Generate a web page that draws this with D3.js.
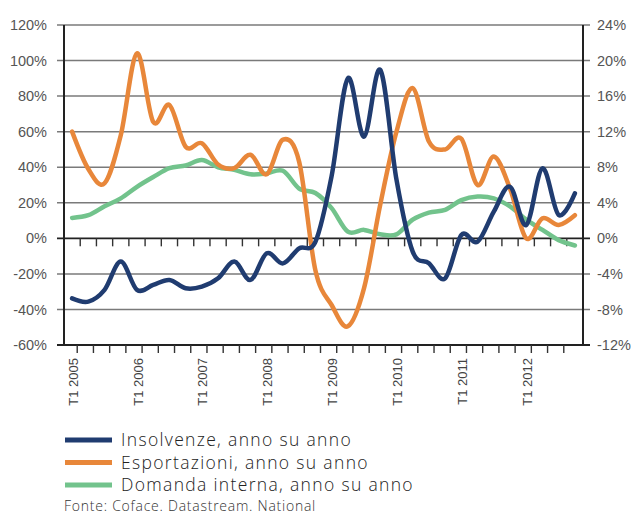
<!DOCTYPE html>
<html>
<head>
<meta charset="utf-8">
<script src="https://cdn.jsdelivr.net/npm/d3@7"></script>
<style>
  html, body { margin: 0; padding: 0; background: #ffffff; }
  svg { display: block; }
</style>
</head>
<body>
<svg id="chart" width="631" height="515"></svg>
<script>
// ---- Data ----
const categories = [
  "T1 2005","T2 2005","T3 2005","T4 2005",
  "T1 2006","T2 2006","T3 2006","T4 2006",
  "T1 2007","T2 2007","T3 2007","T4 2007",
  "T1 2008","T2 2008","T3 2008","T4 2008",
  "T1 2009","T2 2009","T3 2009","T4 2009",
  "T1 2010","T2 2010","T3 2010","T4 2010",
  "T1 2011","T2 2011","T3 2011","T4 2011",
  "T1 2012","T2 2012","T3 2012","T4 2012"
];
const labelledCategories = ["T1 2005","T1 2006","T1 2007","T1 2008","T1 2009","T1 2010","T1 2011","T1 2012"];

// left axis (%)
const insolvenze = [-33.8, -35.6, -29, -13.1, -29, -26.2, -23.4, -28.1,
                    -27.2, -22.5, -13.1, -23.4, -8.4, -14.1, -5.6, -2,
                    35, 90, 57.2, 94.7, 33, -7.5, -14, -22.5,
                    1.9, -1.9, 15, 29, 7.5, 39.4, 13.1, 25.3];
// right axis (%)
const esportazioni = [12.0, 7.8, 6.2, 11.6, 20.8, 13.1, 15.0, 10.3,
                      10.7, 8.3, 7.9, 9.4, 7.2, 11.1, 8.6, -3.6,
                      -7.5, -9.9, -5.6, 3.8, 12.0, 16.9, 10.9, 10.0,
                      11.2, 6.0, 9.2, 5.6, 0.0, 2.25, 1.5, 2.6];
const domanda = [2.3, 2.6, 3.6, 4.5, 5.8, 6.9, 7.9, 8.2,
                 8.8, 8.0, 7.7, 7.2, 7.3, 7.6, 5.6, 5.1,
                 3.4, 0.75, 0.95, 0.45, 0.45, 2.1, 2.9, 3.2,
                 4.3, 4.7, 4.5, 3.6, 2.1, 0.95, -0.2, -0.8];

const leftTicks = [-60, -40, -20, 0, 20, 40, 60, 80, 100, 120];
const rightTicks = [-12, -8, -4, 0, 4, 8, 12, 16, 20, 24];

const seriesNames = ["Insolvenze, anno su anno", "Esportazioni, anno su anno", "Domanda interna, anno su anno"];
const seriesColors = ["#203c70", "#e8873a", "#72c38c"];
const sourceNote = "Fonte: Coface. Datastream. National";

// ---- Layout ----
const svg = d3.select("#chart");
const plot = { left: 64, right: 583, top: 25, bottom: 345 };

const x = d3.scaleBand().domain(categories).range([plot.left, plot.right]).padding(0);
const yL = d3.scaleLinear().domain([-60, 120]).range([plot.bottom, plot.top]);
const yR = d3.scaleLinear().domain([-12, 24]).range([plot.bottom, plot.top]);
const cx = c => x(c) + x.bandwidth() / 2;

// gridlines
svg.append("g").selectAll("line").data(leftTicks).join("line")
  .attr("x1", plot.left - 7).attr("x2", plot.right + 7)
  .attr("y1", d => yL(d)).attr("y2", d => yL(d))
  .attr("stroke", d => d === 0 || d === -60 ? "#222" : "#7a7a7a")
  .attr("stroke-width", d => d === 0 || d === -60 ? 1.8 : 1.5);

// vertical axes
svg.append("line").attr("x1", plot.left).attr("x2", plot.left)
  .attr("y1", plot.top).attr("y2", plot.bottom).attr("stroke", "#222").attr("stroke-width", 2);
svg.append("line").attr("x1", plot.right).attr("x2", plot.right)
  .attr("y1", plot.top).attr("y2", plot.bottom).attr("stroke", "#222").attr("stroke-width", 2);

// category boundary ticks on zero line and bottom
const boundaries = categories.slice(1).map(c => x(c));
svg.append("g").selectAll("line").data(boundaries).join("line")
  .attr("x1", d => d).attr("x2", d => d)
  .attr("y1", yL(0)).attr("y2", yL(0) + 8)
  .attr("stroke", "#333").attr("stroke-width", 1.4);
svg.append("g").selectAll("line").data(boundaries).join("line")
  .attr("x1", d => d - 3).attr("x2", d => d - 3)
  .attr("y1", plot.bottom).attr("y2", plot.bottom + 8)
  .attr("stroke", "#333").attr("stroke-width", 1.4);

// axis labels
const tickFont = "'Liberation Sans', Arial, sans-serif";
svg.append("g").selectAll("text").data(leftTicks).join("text")
  .attr("x", 47).attr("y", d => yL(d)).attr("dy", "0.35em")
  .attr("text-anchor", "end")
  .attr("font-family", tickFont).attr("font-size", 14.5).attr("fill", "#555")
  .text(d => d + "%");
svg.append("g").selectAll("text").data(rightTicks).join("text")
  .attr("x", 597).attr("y", d => yR(d)).attr("dy", "0.35em")
  .attr("text-anchor", "start")
  .attr("font-family", tickFont).attr("font-size", 14.5).attr("fill", "#555")
  .text(d => d + "%");

svg.append("g").selectAll("text").data(labelledCategories).join("text")
  .attr("transform", d => `translate(${cx(d) + 1},358) rotate(-90)`)
  .attr("dy", "0.35em")
  .attr("text-anchor", "end")
  .attr("font-family", tickFont).attr("font-size", 13).attr("fill", "#444")
  .text(d => d);

// lines
const curve = d3.curveCardinal.tension(0);
const lineL = d3.line().x((d, i) => cx(categories[i])).y(d => yL(d)).curve(curve);
const lineR = d3.line().x((d, i) => cx(categories[i])).y(d => yR(d)).curve(curve);

svg.append("path").datum(domanda).attr("d", lineR)
  .attr("fill", "none").attr("stroke", seriesColors[2]).attr("stroke-width", 4.5)
  .attr("stroke-linejoin", "round").attr("stroke-linecap", "round");
svg.append("path").datum(esportazioni).attr("d", lineR)
  .attr("fill", "none").attr("stroke", seriesColors[1]).attr("stroke-width", 4.5)
  .attr("stroke-linejoin", "round").attr("stroke-linecap", "round");
svg.append("path").datum(insolvenze).attr("d", lineL)
  .attr("fill", "none").attr("stroke", seriesColors[0]).attr("stroke-width", 4.5)
  .attr("stroke-linejoin", "round").attr("stroke-linecap", "round");

// legend
const legendFont = "'Open Sans', 'Noto Sans', sans-serif";
const lg = svg.append("g");
const rowsY = [440, 462.5, 485];
lg.selectAll("line").data(seriesNames).join("line")
  .attr("x1", 65).attr("x2", 112)
  .attr("y1", (d, i) => rowsY[i]).attr("y2", (d, i) => rowsY[i])
  .attr("stroke", (d, i) => seriesColors[i]).attr("stroke-width", 5);
const legTexts = lg.selectAll("text").data(seriesNames).join("text")
  .attr("x", 121).attr("y", (d, i) => rowsY[i]).attr("dy", "0.35em")
  .attr("font-family", legendFont).attr("font-size", 17.5).attr("font-weight", 300)
  .attr("fill", "#222")
  .text(d => d);
// widen letter spacing so the first entry spans like the reference (~231px)
const w0 = legTexts.nodes()[0].getComputedTextLength();
const ls = w0 > 0 ? Math.max(0, (231 - w0) / 24) : 0.6;
legTexts.attr("letter-spacing", ls);

const src = svg.append("text").attr("x", 64).attr("y", 511)
  .attr("font-family", legendFont).attr("font-size", 14).attr("font-weight", 300)
  .attr("fill", "#333").text(sourceNote);
const w1 = src.node().getComputedTextLength();
src.attr("letter-spacing", w1 > 0 ? Math.max(0, (252 - w1) / 35) : 0.5);
</script>
</body>
</html>
